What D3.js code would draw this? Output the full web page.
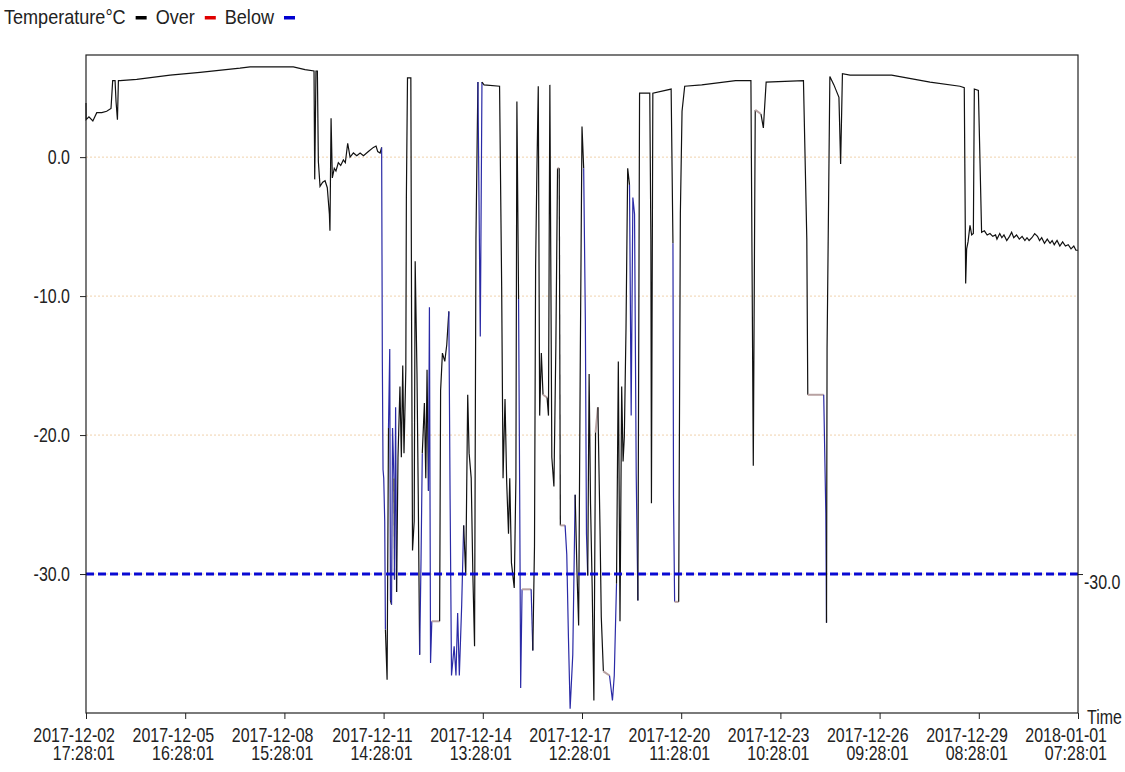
<!DOCTYPE html>
<html>
<head>
<meta charset="utf-8">
<script src="https://cdn.jsdelivr.net/npm/d3@7"></script>
<style>
  body { margin: 0; background: #fff; }
  svg text { font-family: "Liberation Sans", Arial, sans-serif; fill: #222; }
</style>
</head>
<body>
<script>

/* time range and tick labels */
var startTime = "2017-12-02 17:28:01";
var endTime = "2018-01-01 07:28:01";
var tickLabels = ["2017-12-02 17:28:01", "2017-12-05 16:28:01", "2017-12-08 15:28:01",
    "2017-12-11 14:28:01", "2017-12-14 13:28:01", "2017-12-17 12:28:01", "2017-12-20 11:28:01",
    "2017-12-23 10:28:01", "2017-12-26 09:28:01", "2017-12-29 08:28:01", "2018-01-01 07:28:01"];
var yTicks = [0, -10, -20, -30];
var yMin = -40, yMax = 7.35;
var threshold = -30;

/* legend */
var legendTitle = "Temperature°C";
var legendItems = ["Over", "Below"];
var legendColors = ["#000000", "#e00000", "#0000d0"];

/* readings: hours after startTime, temperature, colour of the segment ending at the point
   k = normal, b = below alarm, p = gap */
var hours = [
    0, 0.1, 2.1, 4.9, 7.7, 11.3, 14.8, 17.9, 19.1, 20.8,
    21.5, 22.5, 23.2, 24.4, 36.3, 60.2, 81.6, 110.2, 117.4, 148.4,
    156.8, 163.2, 163.7, 164.6, 165.6, 166.3, 167.5, 169.4, 171.1, 172.7,
    174.2, 174.6, 175.4, 176.3, 177.7, 178.9, 180.6, 182.3, 184.2, 185.6,
    187.3, 189.0, 191.4, 193.8, 196.2, 198.6, 202.1, 205.7, 207.6, 208.8,
    210.5, 211.6,
    212.1, 212.6, 213.1, 213.8, 214.3, 215.5, 216.5, 217.4, 217.9, 218.7,
    219.4, 220.4, 220.8, 221.6, 222.3, 223.3, 224.7, 225.7, 226.7, 227.6,
    228.9, 229.3, 230.1, 232.5, 233.0, 233.7, 234.9, 235.6, 236.9, 237.8,
    238.8, 239.8, 240.7, 242.2, 243.2, 244.1, 245.1, 245.8, 246.6, 247.5,
    253.1, 253.8, 255.1, 256.8, 258.2, 259.7, 260.6, 261.6, 263.5, 264.8,
    266.0, 267.2, 268.9, 270.3, 271.8, 273.2, 274.2, 275.7, 276.9, 278.1,
    279.1, 280.5, 282.2, 283.4, 284.9, 296.0, 297.5, 298.5, 299.9, 301.1,
    302.4, 303.3, 304.5, 306.5, 307.7, 308.4, 309.6, 310.4, 311.1, 312.1,
    318.6, 319.8, 321.0, 321.8, 322.7, 323.7, 324.7, 325.9, 327.1, 330.0,
    331.0, 332.0, 333.4, 334.9, 336.3, 337.5, 338.7, 339.5, 342.9, 344.1,
    345.3, 346.5, 348.4, 350.1, 351.4, 352.6, 353.8, 355.0, 356.2, 357.4,
    358.2, 359.1, 360.1, 361.1, 362.3, 363.5, 364.7, 366.4, 367.9, 368.8,
    370.3, 374.7, 376.8, 378.1, 379.7, 381.0, 382.2, 383.4, 384.4, 385.3,
    386.5, 387.7, 389.0, 390.2, 391.4, 392.6, 393.8, 395.0, 396.2, 403.5,
    404.3, 404.7, 405.7,
    418.8, 420.1, 420.5, 421.3, 424.2, 425.4, 426.6, 428.5, 440.7, 464.9,
    475.9, 477.6, 479.0, 483.1, 484.8, 486.8, 513.5, 514.7, 515.9, 516.6,
    528.0, 529.5, 530.0, 530.4, 532.4, 535.3, 538.9, 540.1, 541.4, 546.8,
    576.6, 593.3, 604.1, 625.5, 628.6, 629.1, 629.6, 630.3, 631.3, 632.7,
    633.9, 635.1, 635.8, 638.7, 639.9, 641.0, 643, 645, 647, 649,
    651, 652, 654, 655.5, 657, 659, 661, 662.5, 664, 666,
    668, 670, 672, 673.5, 675, 677, 679, 681, 682.5, 684,
    686, 688, 690, 691.5, 693, 695, 697, 699, 701, 703,
    705, 707, 708.5, 710
];
var temps = [
    3.9, 2.7, 2.9, 2.6, 3.2, 3.2, 3.3, 3.5, 5.5, 5.5,
    4.0, 2.7, 5.5, 5.5, 5.6, 5.9, 6.1, 6.4, 6.5, 6.5,
    6.3, 6.2, -1.6, 6.2, 6.2, -0.3, -2.1, -1.8, -1.7, -2.2,
    -4.1, -5.3, 2.8, -1.5, -0.8, -1.0, -0.4, -0.6, -0.2, -0.4,
    1.0, 0.0, 0.3, 0.1, 0.3, 0.1, 0.4, 0.7, 0.8, 0.4,
    0.3, 0.7,
    -14.7, -22.5, -23.1, -26.2, -34.0, -37.6, -19.5, -13.8, -31.9, -32.2,
    -19.5, -23.1, -30.4, -18.0, -31.3, -21.6, -16.5, -21.6, -15.0, -21.3,
    -15.3, -2.9, 5.7, 5.7, -11.1, -28.3, -26.2, -7.5, -15.6, -24.3,
    -35.8, -28.9, -21.3, -17.7, -23.1, -15.3, -24.0, -10.8, -36.4, -33.4,
    -33.4, -16.8, -14.1, -14.7, -13.5, -11.1, -24.6, -37.3, -35.2, -37.3,
    -32.8, -37.3, -32.2, -26.5, -30.1, -17.1, -21.3, -23.1, -30.1, -35.2,
    -5.9, 5.4, -12.9, 5.4, 5.2, 5.1, -9.3, -23.1, -17.4, -23.4,
    -27.1, -23.1, -29.2, -31.0, -23.1, 4.0, -10.2, -24.3, -38.2, -31.1,
    -31.1, -35.5, -28.0, -7.8, -1.1, 5.1, -18.6, -14.1, -17.1, -17.3,
    -18.6, 5.2, -21.6, -23.7, -13.5, -0.8, -0.8, -26.5, -26.5, -28.6,
    -34.6, -39.7, -35.8, -24.3, -29.8, -33.7, -14.1, 2.2, -0.8, -11.7,
    -27.1, -30.1, -15.6, -24.9, -31.0, -39.1, -19.8, -18.0, -26.8, -33.1,
    -37.0, -37.3, -39.1, -37.3, -30.7, -14.7, -33.4, -16.5, -21.9, -20.1,
    -12.3, -0.8, -2.0, -18.6, -2.9, -4.1, -22.8, -31.9, 4.6, 4.6,
    -5.9, -24.9, 4.6,
    4.9, -6.2, -24.5, -32.0, -32.0, -4.1, 3.3, 5.1, 5.2, 5.5,
    5.5, -22.2, 3.4, 3.1, 2.1, 5.4, 5.5, -0.2, -5.9, -17.1,
    -17.1, -25.6, -33.5, -13.8, 5.8, 5.2, 4.3, -0.5, 6.0, 5.9,
    5.9, 5.6, 5.4, 5.1, 5.0, -1.9, -9.1, -6.6, -6.1, -4.9,
    -5.6, -5.5, 4.9, 4.8, -0.5, -5.4, -5.3, -5.6, -5.5, -5.7,
    -5.6, -5.9, -5.5, -5.8, -5.6, -6.0, -5.7, -5.4, -5.8, -5.6,
    -5.9, -5.7, -6.0, -5.8, -6.0, -5.8, -5.5, -5.7, -6.0, -5.8,
    -6.2, -5.9, -6.2, -6.0, -6.3, -6.0, -6.4, -6.1, -6.4, -6.3,
    -6.6, -6.4, -6.7, -6.7
];
var state = (
    "kkkkkkkkkk" + "kkkkkkkkkk" + "kkkkkkkkkk" + "kkkkkkkkkk" + "kkkkkkkkkk" + "kk" +
    "bbbbbkkbbk" + "bbkbbkkkkk" + "kkkkkkkkkk" + "kbbkkkkbbb" + "pkkkkkbbbb" +
    "bbbbkkkkkk" + "kkbbkkkkkk" + "kkkkkkkbbb" + "pbkkkkkkkp" + "kkkkkkpkpb" +
    "bbbbkkkkkb" + "bbkkkkkpkk" + "kpbbbkkkkk" + "kkkbbbbbkk" + "kkk" +
    "kkbbpkkkkk" + "kkkpkkkkkk" + "pbbkkkkkkk" + "kkkkkkkkkk" + "kkkkkkkkkk" +
    "kkkkkkkkkk" + "kkkkkkkkkk" + "kkkkkkkkkk" + "kkkk"
).split("");

var lineColors = { k: "#111111", b: "#2a2aa6", p: "#b8a2a2" };

if (hours.length != temps.length || hours.length != state.length)
    throw new Error("data length mismatch " + hours.length + " " + temps.length + " " + state.length);

var W = 1125, H = 772;
var plotLeft = 86, plotRight = 1078, plotTop = 55, plotBottom = 713;
var fontSize = 21;
var squeeze = 0.76;        // the original uses a tall, condensed face
var legendSqueeze = 0.86;

var parseTime = d3.timeParse("%Y-%m-%d %H:%M:%S");
var t0 = parseTime(startTime);

var x = d3.scaleTime().domain([t0, parseTime(endTime)]).range([plotLeft, plotRight]);
var y = d3.scaleLinear().domain([yMin, yMax]).range([plotBottom, plotTop]);

var svg = d3.select("body").append("svg")
    .attr("width", W)
    .attr("height", H);

svg.append("rect").attr("width", W).attr("height", H).attr("fill", "#fff");

/* squeeze text horizontally to mimic a narrow font, returns new width */
function narrow(sel, k) {
    var w = 0;
    sel.each(function() {
        w = this.getComputedTextLength() * k;
        d3.select(this).attr("textLength", w).attr("lengthAdjust", "spacingAndGlyphs");
    });
    return w;
}

/* dotted grid lines */
svg.append("g").selectAll("line")
    .data(yTicks)
    .enter().append("line")
    .attr("x1", plotLeft).attr("x2", plotRight)
    .attr("y1", function(d) { return y(d); })
    .attr("y2", function(d) { return y(d); })
    .attr("stroke", "#f0d2ad")
    .attr("stroke-width", 1)
    .attr("stroke-dasharray", "2,2");

/* build the points and split them into runs of one colour */
var points = hours.map(function(h, i) {
    return { t: new Date(t0.getTime() + h * 3600 * 1000), v: temps[i] };
});

var runs = [];
var cur = null;
for (var i = 1; i < points.length; i++) {
    if (!cur || cur.c != state[i]) {
        cur = { c: state[i], pts: [points[i - 1]] };
        runs.push(cur);
    }
    cur.pts.push(points[i]);
}

var line = d3.line()
    .x(function(d) { return x(d.t); })
    .y(function(d) { return y(d.v); });

svg.append("g").selectAll("path")
    .data(runs)
    .enter().append("path")
    .attr("d", function(d) { return line(d.pts); })
    .attr("fill", "none")
    .attr("stroke", function(d) { return lineColors[d.c]; })
    .attr("stroke-width", function(d) { return d.c == "p" ? 2 : 1.2; });

/* alarm threshold */
svg.append("line")
    .attr("x1", plotLeft).attr("x2", plotRight)
    .attr("y1", y(threshold)).attr("y2", y(threshold))
    .attr("stroke", "#0a0ad2")
    .attr("stroke-width", 3)
    .attr("stroke-dasharray", "8,4");

/* frame */
svg.append("rect")
    .attr("x", plotLeft).attr("y", plotTop)
    .attr("width", plotRight - plotLeft).attr("height", plotBottom - plotTop)
    .attr("fill", "none")
    .attr("stroke", "#222")
    .attr("stroke-width", 1.2);

/* y axis */
var yAxis = svg.append("g")
    .attr("transform", "translate(" + plotLeft + ",0)")
    .call(d3.axisLeft(y).tickValues(yTicks).tickSize(6).tickPadding(10)
        .tickFormat(function(d) { return d.toFixed(1); }));
yAxis.select(".domain").remove();
yAxis.selectAll("line").attr("stroke", "#222");
yAxis.selectAll("text").attr("font-size", fontSize).attr("font-family", null).attr("fill", "#222")
    .each(function() { narrow(d3.select(this), squeeze); });

/* threshold label on the right */
var rAxis = svg.append("g")
    .attr("transform", "translate(" + plotRight + ",0)")
    .call(d3.axisRight(y).tickValues([threshold]).tickSize(5).tickPadding(1)
        .tickFormat(function(d) { return d.toFixed(1); }));
rAxis.select(".domain").remove();
rAxis.selectAll("line").attr("stroke", "#222");
rAxis.selectAll("text").attr("font-size", fontSize).attr("font-family", null).attr("fill", "#222")
    .attr("dy", "0.7em")
    .each(function() { narrow(d3.select(this), squeeze); });

/* x axis */
var tickDates = tickLabels.map(parseTime);
var xAxis = svg.append("g")
    .attr("transform", "translate(0," + plotBottom + ")")
    .call(d3.axisBottom(x).tickValues(tickDates).tickSize(6).tickFormat(""));
xAxis.select(".domain").remove();
xAxis.selectAll("line").attr("stroke", "#222");

var xLab = svg.append("g").selectAll("text")
    .data(tickLabels)
    .enter().append("text")
    .attr("text-anchor", "end")
    .attr("font-size", fontSize);
xLab.append("tspan")
    .attr("x", function(d) { return x(parseTime(d)) + 29; })
    .attr("y", 742)
    .text(function(d) { return d.split(" ")[0]; });
xLab.append("tspan")
    .attr("x", function(d) { return x(parseTime(d)) + 29; })
    .attr("y", 760)
    .text(function(d) { return d.split(" ")[1]; });
xLab.selectAll("tspan").each(function() { narrow(d3.select(this), squeeze); });

var timeLabel = svg.append("text")
    .attr("x", plotRight + 9)
    .attr("y", 724)
    .attr("font-size", fontSize)
    .text("Time");
narrow(timeLabel, squeeze);

/* legend */
var lx = 4;
var title = svg.append("text").attr("x", lx).attr("y", 24).attr("font-size", fontSize).text(legendTitle);
lx += narrow(title, legendSqueeze) + 10;
var labels = [""].concat(legendItems);
for (var j = 0; j < legendColors.length; j++) {
    if (j > 0) {
        var t = svg.append("text").attr("x", lx).attr("y", 24).attr("font-size", fontSize).text(labels[j]);
        lx += narrow(t, legendSqueeze) + 10;
    }
    svg.append("rect")
        .attr("x", lx).attr("y", 16)
        .attr("width", 11).attr("height", 3.5)
        .attr("fill", legendColors[j]);
    lx += 20;
}

</script>
</body>
</html>
